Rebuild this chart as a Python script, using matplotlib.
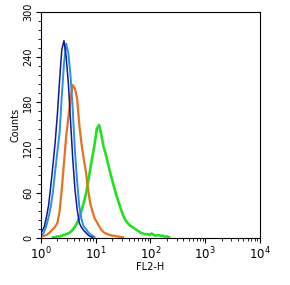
import numpy as np
import matplotlib
matplotlib.use("Agg")
import matplotlib.pyplot as plt
from matplotlib.ticker import FixedLocator, LogLocator, NullFormatter

BIN_W = 0.04  # bin width in decades

dark_start = 0.00
dark_counts = [9, 15, 28, 44, 70, 98, 128, 165, 210, 250, 262, 240, 205, 155,
               105, 65, 38, 20, 14, 10, 7, 4, 2, 1]

light_start = 0.00
light_counts = [4, 8, 17, 28, 42, 62, 90, 115, 140, 188, 232, 258, 245, 215,
                170, 115, 75, 42, 25, 15, 12, 8, 5, 3, 1]

orange_start = 0.00
orange_counts = [2, 3, 4, 6, 9, 12, 15, 20, 36, 65, 100, 135, 160, 185, 203,
                 198, 185, 150, 125, 105, 88, 64, 46, 35, 26, 21, 16, 11, 8, 6,
                 5, 4, 3, 3, 2, 2, 1, 1]

green_start = 0.20
green_counts = [1, 1, 2, 2, 3, 4, 5, 6, 8, 11, 15, 20, 27, 36, 47, 58, 74, 92,
                108, 125, 145, 150, 138, 122, 112, 100, 88, 77, 66, 56, 47, 38,
                30, 24, 20, 17, 15, 13, 11, 9, 7, 6, 5, 5, 4, 6, 4, 3, 4, 3, 3,
                2, 2, 1]

y_ticks = [0, 60, 120, 180, 240, 300]
x_ticks = [1, 10, 100, 1000, 10000]
x_ticklabels = ["$10^0$", "$10^1$", "$10^2$", "$10^3$", "$10^4$"]

fig = plt.figure(figsize=(2.9, 2.85), dpi=100)
ax = fig.add_axes([0.1414, 0.165, 0.755, 0.793])

def centers(start, n):
    return 10 ** (start + BIN_W * (np.arange(n) + 0.5))

series = [
    (green_start, green_counts, "#22e022", 1.9),
    (orange_start, orange_counts, "#e8701e", 1.6),
    (light_start, light_counts, "#2f8fe6", 1.4),
    (dark_start, dark_counts, "#0c1a9c", 1.1),
]
for start, counts, color, lw in series:
    ax.plot(centers(start, len(counts)), counts, color=color, lw=lw)

ax.set_xscale("log")
ax.set_xlim(1, 10000)
ax.set_ylim(0, 300)

ax.set_xticks(x_ticks)
ax.set_xticklabels(x_ticklabels, fontsize=8.5)
ax.xaxis.set_minor_locator(LogLocator(base=10, subs=np.arange(2, 10)))
ax.xaxis.set_minor_formatter(NullFormatter())

ax.set_yticks(y_ticks)
ax.set_yticklabels([str(v) for v in y_ticks], fontsize=7, rotation=90, va="center")
ax.yaxis.set_minor_locator(FixedLocator(np.arange(0, 301, 12)))

ax.tick_params(axis="both", which="major", direction="out", length=3.5, width=0.8, pad=2)
ax.tick_params(axis="both", which="minor", direction="out", length=2, width=0.6)
for s in ax.spines.values():
    s.set_linewidth(0.8)

ax.set_xlabel("FL2-H", fontsize=7, labelpad=0)
ax.set_ylabel("Counts", fontsize=7, labelpad=2)

fig.savefig("out.png", dpi=100)
